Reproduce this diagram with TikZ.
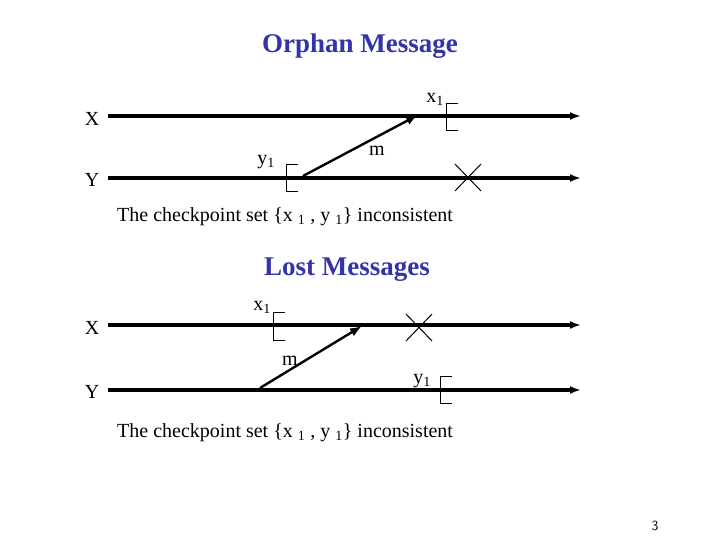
\documentclass[tikz,border=0pt]{standalone}
\usepackage{fontspec}
\setmainfont{Liberation Serif}
\usetikzlibrary{arrows.meta}
\begin{document}
\begin{tikzpicture}[x=1pt,y=-1pt,
  tl/.style={line width=3.2pt,-{Latex[length=11pt,width=8pt]}},
  msg/.style={line width=2.4pt,-{Latex[length=12pt,width=9pt]}},
  ck/.style={line width=1pt},
  lbl/.style={font=\fontsize{20}{20}\selectfont,inner sep=0pt},
  ttl/.style={font=\fontsize{27}{27}\selectfont\bfseries,text={rgb,255:red,51;green,51;blue,170},inner sep=0pt}]
\useasboundingbox (0,0) rectangle (720,540);
\fill[white] (0,0) rectangle (720,540);
% Orphan
\node[ttl] (t1) at (360,46) {Orphan Message};
\coordinate (xs) at (108,116); \coordinate (xe) at (581,116);
\coordinate (ys) at (108,178); \coordinate (ye) at (581,178);
\draw[tl] (xs) -- (xe);
\draw[tl] (ys) -- (ye);
\node[lbl] (X1) at (92,119) {X};
\node[lbl] (Y1) at (92,180) {Y};
\draw[ck] (458,104) -- (446,104) -- (446,131) -- (458,131);
\draw[ck] (298,165) -- (286,165) -- (286,192) -- (298,192);
\node[lbl] (x1a) at (435,99) {x\textsubscript{1}};
\node[lbl] (y1a) at (266,162) {y\textsubscript{1}};
\coordinate (ma) at (303,176); \coordinate (mb) at (418,115);
\draw[msg] (ma) -- (mb);
\node[lbl] (m1) at (377,151) {m};
\draw[ck] (455,164) -- (481,191) (455,191) -- (481,164);
\node[lbl,anchor=west] (c1) at (117,217) {The checkpoint set \{x \textsubscript{1} , y \textsubscript{1}\} inconsistent};
% Lost
\node[ttl] (t2) at (347,270) {Lost Messages};
\coordinate (xs2) at (108,325); \coordinate (xe2) at (581,325);
\coordinate (ys2) at (108,390); \coordinate (ye2) at (581,390);
\draw[tl] (xs2) -- (xe2);
\draw[tl] (ys2) -- (ye2);
\node[lbl] (X2) at (92,328) {X};
\node[lbl] (Y2) at (92,392) {Y};
\draw[ck] (285,312) -- (273,312) -- (273,340) -- (285,340);
\draw[ck] (452,376) -- (440,376) -- (440,403) -- (452,403);
\node[lbl] (x1b) at (262,307) {x\textsubscript{1}};
\node[lbl] (y1b) at (422,381) {y\textsubscript{1}};
\coordinate (mc) at (260,388); \coordinate (md) at (362,326);
\draw[msg] (mc) -- (md);
\node[lbl] (m2) at (290,361) {m};
\draw[ck] (406,314) -- (432,341) (406,341) -- (432,314);
\node[lbl,anchor=west] (c2) at (117,433) {The checkpoint set \{x \textsubscript{1} , y \textsubscript{1}\} inconsistent};
\node[font=\fontsize{14}{14}\sffamily,inner sep=0pt] (pg) at (655,526) {3};
\end{tikzpicture}
\end{document}
